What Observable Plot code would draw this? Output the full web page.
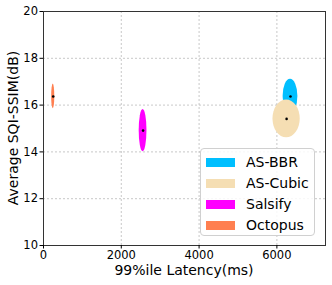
<!DOCTYPE html>
<html><head><meta charset="utf-8">
<script src="https://cdn.jsdelivr.net/npm/d3@7"></script>
<script src="https://cdn.jsdelivr.net/npm/@observablehq/plot@0.6"></script>
<style>
html,body{margin:0;padding:0;background:#fff;}
#wrap{position:relative;width:332px;height:285px;font-family:"DejaVu Sans",sans-serif;}
#legend{position:absolute;left:200px;top:148px;width:115px;height:88px;border:1px solid #d0d0d0;border-radius:4px;background:rgba(255,255,255,0.85);box-sizing:border-box;}
.item{position:absolute;left:5px;height:20px;display:flex;align-items:center;font-size:14px;color:#000;}
.sw{width:29px;height:9px;margin-right:11px;}
</style></head>
<body><div id="wrap"><div id="legend"></div></div>
<script>
const methods = ["AS-BBR", "AS-Cubic", "Salsify", "Octopus"];
const colors = ["#00bfff", "#f5deb3", "#ff00ff", "#ff7f50"];
const latency = [6350, 6250, 2560, 250];
const ssim = [16.37, 15.41, 14.91, 16.37];
const latencySpread = [190, 350, 100, 40];
const ssimSpread = [0.73, 0.81, 0.9, 0.53];
const xTicks = [0, 2000, 4000, 6000];
const yTicks = [10, 12, 14, 16, 18, 20];
const xLabel = "99%ile Latency(ms)";
const yLabel = "Average SQI-SSIM(dB)";

const data = methods.map((m, i) => ({method: m, color: colors[i], x: latency[i], y: ssim[i], rx: latencySpread[i], ry: ssimSpread[i]}));

const plot = Plot.plot({
  width: 332, height: 285,
  marginLeft: 43, marginRight: 7, marginTop: 11, marginBottom: 40,
  style: {fontFamily: "DejaVu Sans, sans-serif", fontSize: "11.5px", color: "#000", background: "#fff"},
  x: {domain: [0, 7250]},
  y: {domain: [10, 20]},
  marks: [
    Plot.gridX(xTicks.slice(1), {stroke: "#b0b0b0", strokeOpacity: 0.7, strokeDasharray: "2,2"}),
    Plot.gridY(yTicks.slice(1, -1), {stroke: "#b0b0b0", strokeOpacity: 0.7, strokeDasharray: "2,2"}),
    Plot.frame({stroke: "#333"}),
    Plot.axisX(xTicks, {tickFormat: d3.format("d"), label: null, tickSize: 3.5, tickPadding: 2, fontSize: 11.5}),
    Plot.axisY(yTicks, {tickFormat: d3.format("d"), label: null, tickSize: 3.5, tickPadding: 2, fontSize: 11.5}),
    Plot.dot(data, {x: "x", y: "y", r: 1.3, fill: "#000", stroke: null})
  ]
});

// draw ellipses with the plot's own scales, beneath the dots
const sx = plot.scale("x"), sy = plot.scale("y");
const svg = d3.select(plot);
const g = svg.insert("g", "g[aria-label=dot]").attr("aria-label", "ellipses");
for (const d of data) {
  const cx = sx.apply(d.x), cy = sy.apply(d.y);
  g.append("ellipse")
    .attr("cx", cx).attr("cy", cy)
    .attr("rx", Math.abs(sx.apply(d.x + d.rx) - cx))
    .attr("ry", Math.abs(sy.apply(d.y + d.ry) - cy))
    .attr("fill", d.color);
}
// axis labels
svg.append("text").attr("x", 184).attr("y", 270).attr("text-anchor", "middle")
  .attr("dominant-baseline", "central").attr("font-size", 14).attr("fill", "#000").text(xLabel);
svg.append("text").attr("transform", "translate(13,128) rotate(-90)").attr("text-anchor", "middle")
  .attr("dominant-baseline", "central").attr("font-size", 14).attr("fill", "#000").text(yLabel);

document.getElementById("wrap").prepend(plot);

const lg = document.getElementById("legend");
methods.forEach((m, i) => {
  const it = document.createElement("div");
  it.className = "item";
  it.style.top = (3 + i * 21) + "px";
  it.innerHTML = `<span class="sw" style="background:${colors[i]}"></span><span>${m}</span>`;
  lg.appendChild(it);
});
</script></body></html>
